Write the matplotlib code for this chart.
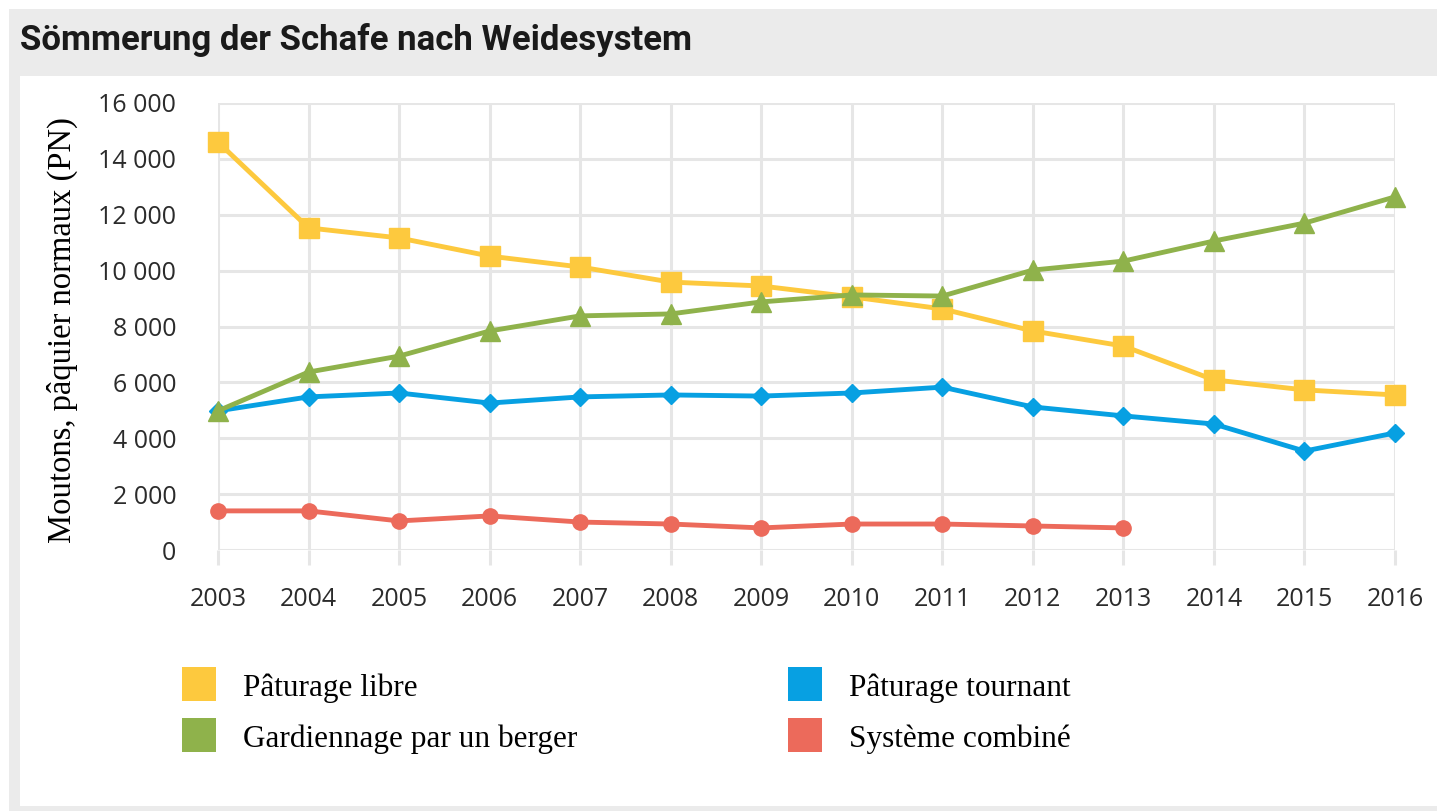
import matplotlib
matplotlib.use("Agg")
import matplotlib.pyplot as plt
from matplotlib.patches import Rectangle
from matplotlib.ticker import FuncFormatter

# Data
years = list(range(2003, 2017))
libre = [14600, 11530, 11170, 10520, 10130, 9590, 9450, 9060, 8630, 7840, 7300, 6090, 5730, 5550]
berger = [4980, 6370, 6940, 7840, 8380, 8450, 8880, 9130, 9090, 10020, 10340, 11060, 11700, 12640]
tournant = [4980, 5480, 5620, 5260, 5480, 5550, 5510, 5620, 5830, 5120, 4800, 4510, 3540, 4190]
combine_years = list(range(2003, 2014))
combine = [1400, 1400, 1040, 1220, 1000, 930, 790, 930, 930, 860, 790]

labels = ["Pâturage libre", "Gardiennage par un berger", "Pâturage tournant", "Système combiné"]
colors = ["#fdc93e", "#8fb24b", "#07a0e2", "#ec6a5b"]
title = "Sömmerung der Schafe nach Weidesystem"
ylabel = "Moutons, pâquier normaux (PN)"

W, H = 1437, 811
fig = plt.figure(figsize=(W / 100, H / 100), dpi=100, facecolor="white")

# grey frame around the panel (title band, left strip, bottom strip)
grey = "#ebebeb"
def px_rect(x0, y0, x1, y1):
    fig.patches.append(Rectangle((x0 / W, 1 - y1 / H), (x1 - x0) / W, (y1 - y0) / H,
                                 transform=fig.transFigure, facecolor=grey,
                                 edgecolor="none", zorder=0))
px_rect(9, 9, W, 76)
px_rect(9, 76, 20, H)
px_rect(9, 806, W, H)

fig.text(20 / W, 1 - 40 / H, title, fontsize=25, fontweight="bold",
         family="Roboto", color="#1a1a1a", va="center", ha="left")

ax = fig.add_axes([218 / W, 1 - 550 / H, (1395 - 218) / W, (550 - 103) / H])
ax.set_xlim(2003, 2016)
ax.set_ylim(0, 16000)
for s in ax.spines.values():
    s.set_visible(False)

ax.set_xticks(years)
ax.set_yticks(range(0, 16001, 2000))
ax.yaxis.set_major_formatter(FuncFormatter(lambda v, p: f"{int(v):,}".replace(",", " ")))
ax.grid(True, color="#e6e6e6", linewidth=2.2, zorder=0)
ax.tick_params(axis="x", length=11, width=2.2, color="#e6e6e6", pad=16,
               labelsize=18, labelcolor="#2b2b2b")
ax.tick_params(axis="y", length=0, pad=30, labelsize=18, labelcolor="#2b2b2b")
for t in ax.get_xticklabels() + ax.get_yticklabels():
    t.set_family("Open Sans")

ax.plot(combine_years, combine, color=colors[3], lw=3.5, marker="o", ms=11, clip_on=False, zorder=3)
ax.plot(years, tournant, color=colors[2], lw=3.5, marker="D", ms=9, clip_on=False, zorder=3)
ax.plot(years, libre, color=colors[0], lw=3.5, marker="s", ms=14, clip_on=False, zorder=4)
ax.plot(years, berger, color=colors[1], lw=3.5, marker="^", ms=15, clip_on=False, zorder=4)

fig.text(62 / W, 1 - 330 / H, ylabel, rotation=90, fontsize=23.5,
         family="Liberation Serif", va="center", ha="center")

# legend drawn by hand, two columns
legend_pos = [(182, 684), (182, 735), (788, 684), (788, 735)]
for (x, y), lab, c in zip(legend_pos, labels, colors):
    fig.patches.append(Rectangle((x / W, 1 - (y + 17) / H), 34 / W, 34 / H,
                                 transform=fig.transFigure, facecolor=c,
                                 edgecolor="none"))
    fig.text((x + 61) / W, 1 - (y + 4) / H, lab, fontsize=22.5,
             family="Liberation Serif", va="center", ha="left")

fig.savefig("out.png", dpi=100, facecolor="white")
